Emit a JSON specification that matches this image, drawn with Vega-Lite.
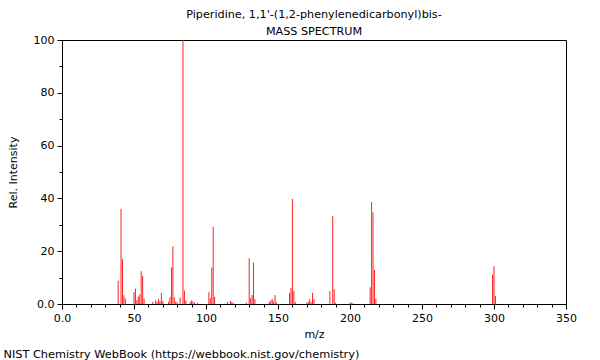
{
  "$schema": "https://vega.github.io/schema/vega-lite/v6.json",
  "width": 504,
  "height": 264,
  "autosize": {"type": "none"},
  "padding": {"left": 62, "top": 40, "right": 34, "bottom": 56},
  "background": "white",
  "config": {"font": "DejaVu Sans", "view": {"stroke": "#000", "strokeWidth": 1}},
  "title": {
    "text": ["Piperidine, 1,1'-(1,2-phenylenedicarbonyl)bis-", "MASS SPECTRUM"],
    "fontSize": 11.2, "fontWeight": "normal", "color": "#000", "lineHeight": 17, "offset": -3, "anchor": "middle"
  },
  "data": {"values": [
    {"mz": 39, "intensity": 8.8}, {"mz": 41, "intensity": 36}, {"mz": 42, "intensity": 17}, {"mz": 43, "intensity": 3.3}, {"mz": 44, "intensity": 2.1},
    {"mz": 50, "intensity": 4.5}, {"mz": 51, "intensity": 5.8}, {"mz": 52, "intensity": 1.5}, {"mz": 53, "intensity": 2.8}, {"mz": 54, "intensity": 3.6},
    {"mz": 55, "intensity": 12.4}, {"mz": 56, "intensity": 10.6}, {"mz": 57, "intensity": 2.1}, {"mz": 63, "intensity": 0.8}, {"mz": 65, "intensity": 1.4},
    {"mz": 66, "intensity": 0.8}, {"mz": 67, "intensity": 1.9}, {"mz": 68, "intensity": 1.0}, {"mz": 69, "intensity": 4.2}, {"mz": 70, "intensity": 1.1},
    {"mz": 74, "intensity": 0.9}, {"mz": 75, "intensity": 2.6}, {"mz": 76, "intensity": 13.9}, {"mz": 77, "intensity": 21.8}, {"mz": 78, "intensity": 2.5},
    {"mz": 79, "intensity": 0.8}, {"mz": 80, "intensity": 0.6}, {"mz": 82, "intensity": 2.5}, {"mz": 84, "intensity": 100}, {"mz": 85, "intensity": 5.1},
    {"mz": 86, "intensity": 1.3}, {"mz": 89, "intensity": 0.7}, {"mz": 90, "intensity": 1.4}, {"mz": 91, "intensity": 1.0}, {"mz": 92, "intensity": 0.5},
    {"mz": 94, "intensity": 0.5}, {"mz": 102, "intensity": 4.5}, {"mz": 103, "intensity": 2.2}, {"mz": 104, "intensity": 13.8}, {"mz": 105, "intensity": 29.3},
    {"mz": 106, "intensity": 2.7}, {"mz": 115, "intensity": 0.8}, {"mz": 117, "intensity": 1.2}, {"mz": 118, "intensity": 0.8}, {"mz": 119, "intensity": 0.3},
    {"mz": 128, "intensity": 0.5}, {"mz": 130, "intensity": 17.3}, {"mz": 131, "intensity": 2.3}, {"mz": 132, "intensity": 3.4}, {"mz": 133, "intensity": 15.7},
    {"mz": 134, "intensity": 1.8}, {"mz": 144, "intensity": 0.8}, {"mz": 145, "intensity": 1.4}, {"mz": 146, "intensity": 1.9}, {"mz": 147, "intensity": 1.0},
    {"mz": 148, "intensity": 3.4}, {"mz": 149, "intensity": 0.5}, {"mz": 158, "intensity": 4.2}, {"mz": 159, "intensity": 6.1}, {"mz": 160, "intensity": 39.8},
    {"mz": 161, "intensity": 5.0}, {"mz": 162, "intensity": 0.8}, {"mz": 170, "intensity": 0.5}, {"mz": 171, "intensity": 0.8}, {"mz": 172, "intensity": 1.8},
    {"mz": 173, "intensity": 0.8}, {"mz": 174, "intensity": 4.2}, {"mz": 175, "intensity": 1.8}, {"mz": 186, "intensity": 4.9}, {"mz": 188, "intensity": 33.3},
    {"mz": 189, "intensity": 5.6}, {"mz": 190, "intensity": 0.5}, {"mz": 200, "intensity": 0.6}, {"mz": 201, "intensity": 0.4}, {"mz": 202, "intensity": 0.3},
    {"mz": 214, "intensity": 6.3}, {"mz": 215, "intensity": 38.6}, {"mz": 216, "intensity": 34.7}, {"mz": 217, "intensity": 12.9}, {"mz": 218, "intensity": 1.9},
    {"mz": 299, "intensity": 11.2}, {"mz": 300, "intensity": 14.3}, {"mz": 301, "intensity": 3.0}
  ]},
  "layer": [
    {
      "mark": {"type": "rule", "color": "#ff2020", "strokeWidth": 1},
      "encoding": {
        "x": {
          "field": "mz", "type": "quantitative",
          "scale": {"domain": [0, 350], "nice": false, "zero": false},
          "axis": {
            "values": [0,10,20,30,40,50,60,70,80,90,100,110,120,130,140,150,160,170,180,190,200,210,220,230,240,250,260,270,280,290,300,310,320,330,340,350],
            "labelExpr": "datum.value % 50 === 0 ? (datum.value === 0 ? '0.0' : datum.label) : ''",
            "tickSize": {"condition": {"test": "datum.value % 50 === 0", "value": 5}, "value": 3},
            "grid": false, "title": "m/z", "titleFontWeight": "normal", "titleFontSize": 11,
            "labelFontSize": 11, "labelColor": "#000", "titleColor": "#000",
            "domainColor": "#000", "tickColor": "#000", "labelPadding": 3, "titlePadding": 5,
            "labelFlush": false, "labelOverlap": false
          }
        },
        "y": {
          "field": "intensity", "type": "quantitative",
          "scale": {"domain": [0, 100], "nice": false},
          "axis": {
            "values": [0,10,20,30,40,50,60,70,80,90,100],
            "labelExpr": "datum.value % 20 === 0 ? (datum.value === 0 ? '0.0' : datum.label) : ''",
            "tickSize": {"condition": {"test": "datum.value % 20 === 0", "value": 5}, "value": 3},
            "grid": false, "title": "Rel. Intensity", "titleFontWeight": "normal", "titleFontSize": 11,
            "labelFontSize": 11, "labelColor": "#000", "titleColor": "#000",
            "domainColor": "#000", "tickColor": "#000", "labelPadding": 3, "titlePadding": 15,
            "labelFlush": false, "labelOverlap": false
          }
        },
        "y2": {"datum": 0}
      }
    },
    {
      "mark": {"type": "rule", "opacity": 0},
      "encoding": {
        "x": {
          "field": "mz", "type": "quantitative",
          "scale": {"domain": [0, 350], "nice": false, "zero": false},
          "axis": {
            "orient": "bottom", "domain": false, "ticks": false, "labels": false, "grid": false,
            "title": "NIST Chemistry WebBook (https://webbook.nist.gov/chemistry)",
            "titleX": -59, "titleY": 53, "titleAlign": "left", "titleBaseline": "alphabetic",
            "titleFontWeight": "normal", "titleFontSize": 11.3, "titleColor": "#000"
          }
        }
      }
    }
  ],
  "resolve": {"scale": {"x": "independent"}}
}
